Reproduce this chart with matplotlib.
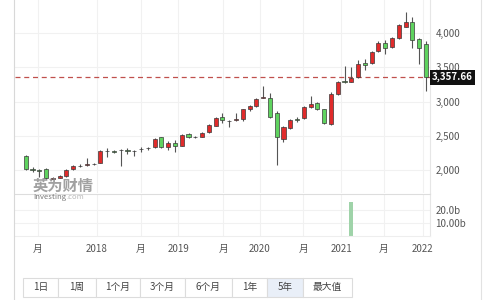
import matplotlib.pyplot as plt
from matplotlib.patches import Rectangle
import pandas as pd

plt.rcParams['font.family'] = ['Noto Sans CJK SC', 'DejaVu Sans']

# monthly candles, Feb 2017 .. Jan 2022
months = pd.period_range('2017-02', '2022-01', freq='M')
opens = [2210, 2020, 1998, 2020, 1880, 1895, 1920, 2020, 2060, 2078,
         2085, 2107, 2285, 2275, 2290, 2290, 2285, 2305, 2318, 2335,
         2480, 2345, 2403, 2360, 2525, 2490, 2490, 2554, 2650, 2780,
         2722, 2733, 2748, 2889, 2937, 3058, 3058, 2831, 2457, 2621,
         2748, 2758, 2918, 2976, 2893, 2670, 3112, 3301, 3287, 3364,
         3558, 3559, 3742, 3850, 3792, 3923, 4092, 4165, 3908, 3836]
highs = [2225, 2050, 2020, 2030, 1900, 1925, 2015, 2075, 2085, 2185,
         2110, 2290, 2330, 2290, 2310, 2330, 2300, 2345, 2335, 2470,
         2490, 2420, 2440, 2525, 2540, 2500, 2560, 2670, 2780, 2830,
         2735, 2831, 2900, 2950, 3050, 3228, 3131, 2860, 2650, 2750,
         2780, 2930, 3083, 2995, 2900, 3137, 3300, 3520, 3505, 3607,
         3617, 3740, 3880, 3900, 3935, 4130, 4300, 4237, 3930, 3880]
lows = [2010, 1980, 1910, 1880, 1870, 1885, 1910, 2010, 2050, 2070,
        2075, 2100, 2199, 2255, 2064, 2240, 2210, 2260, 2290, 2325,
        2320, 2300, 2272, 2350, 2470, 2475, 2480, 2545, 2640, 2685,
        2636, 2715, 2720, 2870, 2920, 3050, 2760, 2078, 2417, 2600,
        2700, 2745, 2905, 2880, 2675, 2660, 3100, 3270, 3280, 3350,
        3461, 3545, 3730, 3690, 3780, 3910, 4080, 3777, 3544, 3155]
closes = [2020, 2010, 1990, 1890, 1888, 1915, 2005, 2065, 2068, 2085,
          2095, 2282, 2278, 2270, 2296, 2285, 2280, 2311, 2322, 2457,
          2335, 2394, 2360, 2515, 2480, 2484, 2548, 2660, 2767, 2735,
          2716, 2738, 2889, 2937, 3039, 3062, 2773, 2490, 2636, 2733,
          2740, 2918, 2970, 2893, 2685, 3108, 3291, 3280, 3340, 3544,
          3540, 3728, 3850, 3777, 3923, 4116, 4155, 3898, 3786, 3357.66]

vol_months = ['2021-02']
vol_values = [26]  # billions

price_ticks = [2000, 2500, 3000, 3500, 4000]
year_ticks = ['2018', '2019', '2020', '2021', '2022']
mid_ticks = ['月', '月', '月', '月', '月']
buttons = ['1日', '1周', '1个月', '3个月', '6个月', '1年', '5年', '最大值']
last_price = 3357.66

UP, DOWN, EDGE = '#e02b2b', '#5fd35f', '#3a3a3a'
GRID = '#f1f1f1'
TXT = '#555555'

fig = plt.figure(figsize=(5, 3), dpi=100)
W, H = 500, 300


def px_axes(x0, y0, x1, y1):
    return fig.add_axes([x0 / W, 1 - y1 / H, (x1 - x0) / W, (y1 - y0) / H])


ax = px_axes(15, 0, 430, 193)
axv = px_axes(15, 194, 430, 236)

xs = list(range(len(months)))
for i in xs:
    o, h, l, c = opens[i], highs[i], lows[i], closes[i]
    col = UP if c >= o else DOWN
    ax.vlines(i, l, h, color='#555555', lw=0.8, zorder=2)
    ax.add_patch(Rectangle((i - 0.3, min(o, c)), 0.6, max(abs(c - o), 8),
                           facecolor=col, edgecolor=EDGE, lw=0.5, zorder=3))

xlim = (-1.58, 59.6)
ax.set_xlim(*xlim)
ax.set_ylim(1670, 4480)

# tick positions: year boundaries and mid-year labels
year_pos = [months.get_loc(pd.Period(y + '-01', 'M')) - 0.5 for y in year_ticks[:-1]]
year_pos.append(len(months) - 1 - 0.5)
mid_pos = [1.8, 17.0, 29.1, 40.9, 52.8]

for a in (ax, axv):
    a.set_xlim(*xlim)
    for s in ['top', 'left', 'bottom']:
        a.spines[s].set_visible(False)
    a.spines['right'].set_color('#e6e6e6')
    a.set_xticks(year_pos + mid_pos)
    a.grid(True, color=GRID, lw=0.8)
    a.set_axisbelow(True)
    a.yaxis.tick_right()
    a.tick_params(length=0, labelsize=7, colors=TXT, pad=4)

ax.set_xticklabels([])
ax.set_yticks(price_ticks)
ax.set_yticklabels([f'{p:,}' for p in price_ticks])

ax.axhline(last_price, color='#c0504d', lw=0.9, ls=(0, (4, 3)), zorder=1)
ax.text(1.005, last_price, f'{last_price:,.2f}', transform=ax.get_yaxis_transform(),
        va='center', ha='left', fontsize=7, color='white', fontweight='bold',
        bbox=dict(boxstyle='square,pad=0.25', fc='#111111', ec='none'), clip_on=False)

# volume panel
vol_x = [months.get_loc(pd.Period(m, 'M')) for m in vol_months]
axv.bar(vol_x, vol_values, width=0.6, color='#9fd3a9')
axv.set_ylim(0, 32)
axv.set_yticks([10, 20])
axv.set_yticklabels(['10.00b', '20.0b'])
axv.set_xticklabels(year_ticks + mid_ticks)
axv.tick_params(axis='x', pad=6)
axv.spines['top'].set_visible(True)
axv.spines['top'].set_color('#dddddd')
axv.spines['bottom'].set_visible(True)
axv.spines['bottom'].set_color('#eeeeee')

# watermark
fig.text(33 / W, 1 - 186 / H, '英为财情', fontsize=11, fontweight='bold',
         color='#8a8a8a', alpha=0.8, va='center')
fig.text(33 / W, 1 - 197 / H, 'Investing', fontsize=5.5, color='#777777', va='center')
fig.text(66 / W, 1 - 197 / H, '.com', fontsize=5.5, color='#bbbbbb', va='center')

# border lines
fig.add_artist(plt.Line2D([14 / W, 14 / W], [0, 1], color='#d8d8d8', lw=0.8))
fig.add_artist(plt.Line2D([481 / W, 481 / W], [0, 1], color='#e2e2e2', lw=0.8))

# period buttons
axb = px_axes(22.7, 277.7, 351.7, 296.7)
axb.set_xlim(22.7, 351.7)
axb.set_ylim(0, 1)
axb.axis('off')
edges = [22.7, 58, 96, 140, 185, 232, 266.7, 303.3, 351.7]
for k, lab in enumerate(buttons):
    x0, x1 = edges[k], edges[k + 1]
    fc = '#e9eff8' if lab == '5年' else 'white'
    axb.add_patch(Rectangle((x0, 0), x1 - x0, 1, facecolor=fc,
                            edgecolor='#dcdcdc', lw=0.8, clip_on=False))
    axb.text((x0 + x1) / 2, 0.5, lab, ha='center', va='center',
             fontsize=7, color='#444444')

fig.savefig('out.png', dpi=100, facecolor='white')
